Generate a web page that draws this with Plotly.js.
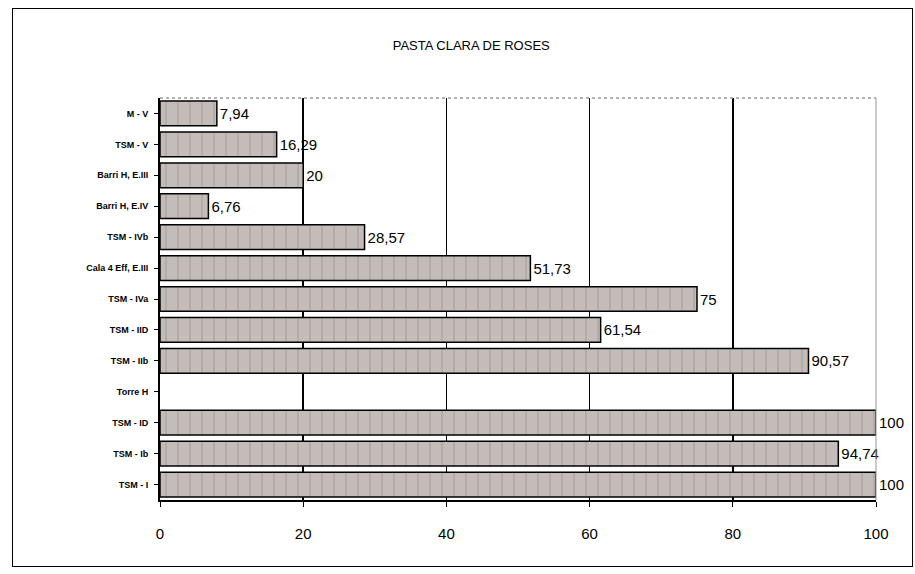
<!DOCTYPE html>
<html><head><meta charset="utf-8">
<script src="https://cdn.plot.ly/plotly-3.0.1.min.js"></script>
<style>
body{margin:0;background:#fff;}
#frame{position:absolute;left:12px;top:8px;width:899px;height:557px;border:1px solid #000;pointer-events:none;z-index:5;}
#chart{position:absolute;left:0;top:0;width:915px;height:574px;}
</style></head>
<body>
<div id="chart"></div><div id="frame"></div>
<script>
const categories = ["TSM - I","TSM - Ib","TSM - ID","Torre H","TSM - IIb","TSM - IID","TSM - IVa","Cala 4 Eff, E.III","TSM - IVb","Barri H, E.IV","Barri H, E.III","TSM - V","M - V"];
const values = [100, 94.74, 100, null, 90.57, 61.54, 75, 51.73, 28.57, 6.76, 20, 16.29, 7.94];
const labels = ["100","94,74","100","","90,57","61,54","75","51,73","28,57","6,76","20","16,29","7,94"];
const xTicks = [0,20,40,60,80,100];

Plotly.newPlot('chart', [{
  type:'bar', orientation:'h', y:categories, x:values,
  text:labels, textposition:'outside', cliponaxis:false,
  textfont:{family:'Liberation Sans, Arial', size:15, color:'#000'},
  marker:{color:'#c4bcb8', line:{color:'#000', width:1.5},
    pattern:{shape:'|', fgcolor:'#aaa29e', bgcolor:'#c4bcb8', size:12, solidity:0.1}},
  hoverinfo:'none'
}], {
  width:915, height:574,
  margin:{l:160, r:39, t:98, b:74},
  paper_bgcolor:'#fff', plot_bgcolor:'#fff',
  bargap:0.2, showlegend:false, separators:',.',
  title:{text:'PASTA CLARA DE ROSES', x:0.515, xanchor:'center', y:0.92, yanchor:'middle',
    font:{family:'Liberation Sans, Arial', size:13, color:'#000'}},
  xaxis:{range:[0,100], tickvals:xTicks, ticks:'outside', ticklen:5, tickcolor:'#000',
    ticklabelstandoff:14,
    showgrid:true, gridcolor:'#000', gridwidth:1.5, zeroline:false,
    showline:true, linecolor:'#000', linewidth:2, mirror:false,
    tickfont:{family:'Liberation Sans, Arial', size:15, color:'#000'}},
  yaxis:{ticks:'outside', ticklen:4, tickcolor:'#000', showline:true, linecolor:'#000', linewidth:2,
    ticklabelstandoff:4,
    tickfont:{family:'Liberation Sans, Arial', size:9, color:'#000', weight:'bold'}, categoryorder:'array', categoryarray:categories},
  shapes:[
    {type:'line', xref:'paper', yref:'paper', x0:0, x1:1, y0:1, y1:1, line:{color:'#999', width:1.5, dash:'dot'}},
    {type:'line', xref:'paper', yref:'paper', x0:1, x1:1, y0:0, y1:1, line:{color:'#999', width:1}}
  ]
}, {displayModeBar:false, staticPlot:true});
</script>
</body></html>
